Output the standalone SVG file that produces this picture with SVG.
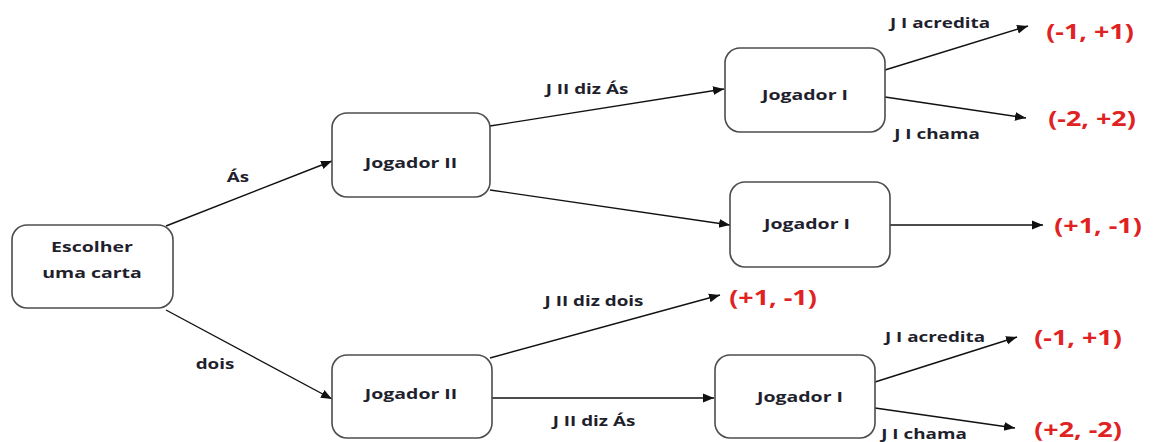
<svg xmlns="http://www.w3.org/2000/svg" width="1156" height="442" viewBox="0 0 1156 442">
  <style>
    .box { fill: #ffffff; stroke: #4d4d4d; stroke-width: 1.6; }
    .node-text { font-family: "Open Sans", "Liberation Sans", sans-serif; font-weight: bold; font-size: 15px; fill: #1f1f2e; text-anchor: middle; dominant-baseline: central; }
    .edge { stroke: #111111; stroke-width: 1.4; fill: none; marker-end: url(#arrow); }
    .edge-label { font-family: "Open Sans", "Liberation Sans", sans-serif; font-weight: bold; font-size: 14.5px; fill: #1f1f2e; text-anchor: middle; dominant-baseline: central; }
    .payoff { font-family: "Open Sans", "Liberation Sans", sans-serif; font-weight: bold; font-size: 21px; fill: #e02222; text-anchor: middle; dominant-baseline: central; }
  </style>
  <defs>
    <marker id="arrow" viewBox="0 0 10 10" refX="10" refY="5" markerWidth="11" markerHeight="11" markerUnits="userSpaceOnUse" orient="auto">
      <path d="M0,1 L10,5 L0,9 Z" fill="#111111"/>
    </marker>
  </defs>
  <rect width="1156" height="442" fill="#ffffff"/>

  <!-- connectors with their labels; text is widened horizontally -->
  <g id="connectors">
    <line class="edge" x1="166" y1="226" x2="332" y2="161"/>
    <line class="edge" x1="166" y1="310" x2="332" y2="399"/>
    <line class="edge" x1="490" y1="126" x2="724" y2="89"/>
    <line class="edge" x1="490" y1="190" x2="730" y2="225"/>
    <line class="edge" x1="885" y1="70" x2="1028" y2="26"/>
    <line class="edge" x1="885" y1="97" x2="1026" y2="118"/>
    <line class="edge" x1="890" y1="225" x2="1043" y2="225"/>
    <line class="edge" x1="490" y1="358" x2="720" y2="295"/>
    <line class="edge" x1="492" y1="398" x2="714" y2="398"/>
    <line class="edge" x1="875" y1="382" x2="1017" y2="337"/>
    <line class="edge" x1="875" y1="408" x2="1015" y2="428"/>

    <text class="edge-label" transform="translate(238 176) scale(1.3 1)">Ás</text>
    <text class="edge-label" transform="translate(215 363) scale(1.3 1)">dois</text>
    <text class="edge-label" transform="translate(587 88) scale(1.3 1)">J II diz Ás</text>
    <text class="edge-label" transform="translate(940 22) scale(1.3 1)">J I acredita</text>
    <text class="edge-label" transform="translate(937 133) scale(1.3 1)">J I chama</text>
    <text class="edge-label" transform="translate(594 300) scale(1.3 1)">J II diz dois</text>
    <text class="edge-label" transform="translate(594 420) scale(1.3 1)">J II diz Ás</text>
    <text class="edge-label" transform="translate(935 336) scale(1.3 1)">J I acredita</text>
    <text class="edge-label" transform="translate(924 433) scale(1.3 1)">J I chama</text>

    <text class="payoff" transform="translate(1090 31) scale(1.28 1)">(-1, +1)</text>
    <text class="payoff" transform="translate(1092 118) scale(1.28 1)">(-2, +2)</text>
    <text class="payoff" transform="translate(1098 225) scale(1.28 1)">(+1, -1)</text>
    <text class="payoff" transform="translate(773 297) scale(1.28 1)">(+1, -1)</text>
    <text class="payoff" transform="translate(1078 337) scale(1.28 1)">(-1, +1)</text>
    <text class="payoff" transform="translate(1078 429) scale(1.28 1)">(+2, -2)</text>
  </g>

  <g id="escolher">
    <rect class="box" x="12" y="225" width="161" height="83" rx="15"/>
    <text class="node-text" transform="translate(92 246) scale(1.3 1)">Escolher</text>
    <text class="node-text" transform="translate(92 272) scale(1.3 1)">uma carta</text>
  </g>

  <g id="jogador2-as">
    <rect class="box" x="332" y="113" width="158" height="84" rx="15"/>
    <text class="node-text" transform="translate(411 162) scale(1.3 1)">Jogador II</text>
  </g>

  <g id="jogador1-top">
    <rect class="box" x="725" y="48" width="160" height="84" rx="15"/>
    <text class="node-text" transform="translate(805 94) scale(1.3 1)">Jogador I</text>
  </g>

  <g id="jogador1-mid">
    <rect class="box" x="730" y="182" width="160" height="85" rx="15"/>
    <text class="node-text" transform="translate(807 223) scale(1.3 1)">Jogador I</text>
  </g>

  <g id="jogador2-dois">
    <rect class="box" x="332" y="355" width="160" height="83" rx="15"/>
    <text class="node-text" transform="translate(411 393) scale(1.3 1)">Jogador II</text>
  </g>

  <g id="jogador1-bottom">
    <rect class="box" x="715" y="355" width="160" height="83" rx="15"/>
    <text class="node-text" transform="translate(800 396) scale(1.3 1)">Jogador I</text>
  </g>
</svg>
